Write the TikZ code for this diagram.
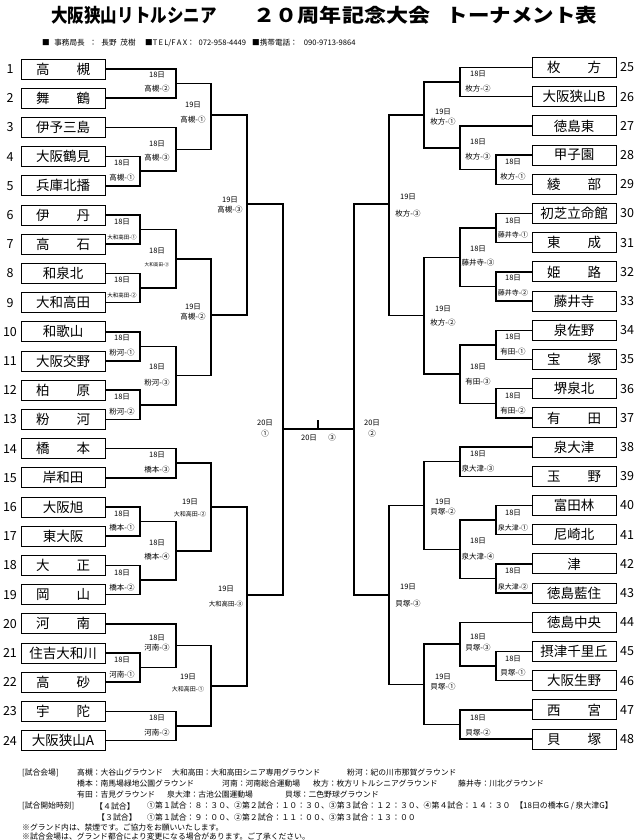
\documentclass[tikz,border=0pt]{standalone}
\usepackage{fontspec}
\usepackage{graphicx}
\setmainfont{Noto Sans CJK JP}
\newcommand\mtch[5]{\coordinate (#5) at (#3,#4); \draw[br] (#1) -- (#1 -| #5) -- (#2 -| #5) -- (#2);}
\newcommand\mlab[6]{\node[lab] (#1a) at (#2,#3) {#5}; \node[lab] (#1b) at (#2,#4) {#6};}
\newcommand\sm[2]{{\fontsize{#1}{#1}\selectfont #2}}
\begin{document}
\begin{tikzpicture}[x=1pt,y=-1pt,
  team/.style={draw, line width=0.9pt, minimum width=84pt, minimum height=20pt, inner sep=0pt, font=\fontsize{13.5}{14}\selectfont},
  num/.style={inner sep=0pt, font=\fontsize{12.5}{13}\selectfont},
  br/.style={line width=1.5pt, line join=miter},
  lab/.style={inner sep=0pt, font=\fontsize{7.5}{8}\selectfont},
  hd/.style={inner sep=0pt, anchor=west, font=\fontsize{7.6}{8}\selectfont},
  ft/.style={inner sep=0pt, anchor=west, font=\fontsize{7.8}{8}\selectfont},
  fb/.style={inner sep=0pt, anchor=west, font=\fontsize{7.9}{9}\selectfont}]
\useasboundingbox (0,0) rectangle (640,840);
\fill[white] (0,0) rectangle (640,840);
% title
\node[inner sep=0pt, font=\fontsize{19}{20}\selectfont\bfseries] (t1) at (134,15) {\scalebox{0.87}[1]{大阪狭山リトルシニア}};
\node[inner sep=0pt, font=\fontsize{19}{20}\selectfont\bfseries] (t2) at (342,15) {\scalebox{1.16}[1]{２０周年記念大会}};
\node[inner sep=0pt, font=\fontsize{19}{20}\selectfont\bfseries] (t3) at (522,15) {\scalebox{1.13}[1]{トーナメント表}};
\node[hd] (h1) at (42,43) {■\hspace{0.6em}事務局長\hspace{0.6em}：\hspace{0.6em}長野\hspace{0.5em}茂樹};
\node[hd] (h2) at (145,43) {■T\,E\,L/F\,A\,X：\hspace{0.5em}072-958-4449};
\node[hd] (h3) at (252,43) {■携帯電話：\hspace{0.8em}090-9713-9864};
% teams
\foreach \t [count=\i] in {{高\hspace{2em}槻},{舞\hspace{2em}鶴},伊予三島,大阪鶴見,兵庫北播,{伊\hspace{2em}丹},{高\hspace{2em}石},和泉北,大和高田,和歌山,大阪交野,{柏\hspace{2em}原},{粉\hspace{2em}河},{橋\hspace{2em}本},岸和田,大阪旭,東大阪,{大\hspace{2em}正},{岡\hspace{2em}山},{河\hspace{2em}南},住吉大和川,{高\hspace{2em}砂},{宇\hspace{2em}陀},大阪狭山A}
{\node[team] (L\i) at (63,{69+(\i-1)*29.2}) {\t};
 \node[num] (NL\i) at (10,{69+(\i-1)*29.2}) {\i};}
\foreach \t [count=\i] in {{枚\hspace{2em}方},大阪狭山B,徳島東,甲子園,{綾\hspace{2em}部},初芝立命館,{東\hspace{2em}成},{姫\hspace{2em}路},藤井寺,泉佐野,{宝\hspace{2em}塚},堺泉北,{有\hspace{2em}田},泉大津,{玉\hspace{2em}野},富田林,尼崎北,津,徳島藍住,徳島中央,摂津千里丘,大阪生野,{西\hspace{2em}宮},{貝\hspace{2em}塚}}
{\pgfmathtruncatemacro\n{\i+24}
 \node[team] (R\n) at (574,{67.5+(\i-1)*29.2}) {\t};
 \node[num] (NR\n) at (627,{67.5+(\i-1)*29.2}) {\n};}
% left brackets
\mtch{L1.east}{L2.east}{176}{83.6}{A1}
\mtch{L4.east}{L5.east}{140}{171.2}{A2}
\mtch{L3.east}{A2}{176}{149.3}{A3}
\mtch{A1}{A3}{211}{115}{B1}
\mtch{L6.east}{L7.east}{140}{229.6}{A4}
\mtch{L8.east}{L9.east}{140}{288}{A5}
\mtch{A4}{A5}{176}{258.8}{A6}
\mtch{L10.east}{L11.east}{140}{346.4}{A7}
\mtch{L12.east}{L13.east}{140}{404.8}{A8}
\mtch{A7}{A8}{176}{375.6}{A9}
\mtch{A6}{A9}{211}{315}{B2}
\mtch{B1}{B2}{247}{204}{C1}
\mtch{L14.east}{L15.east}{176}{463.2}{A10}
\mtch{L16.east}{L17.east}{140}{521.6}{A11}
\mtch{L18.east}{L19.east}{140}{580}{A12}
\mtch{A11}{A12}{176}{550.8}{A13}
\mtch{A10}{A13}{211}{507}{B3}
\mtch{L21.east}{L22.east}{140}{667.6}{A14}
\mtch{L20.east}{A14}{176}{645.7}{A15}
\mtch{L23.east}{L24.east}{176}{726}{A16}
\mtch{A15}{A16}{211}{685.8}{B4}
\mtch{B3}{B4}{247}{595}{C2}
\mtch{C1}{C2}{283}{429}{F1}
% right brackets
\mtch{R25.west}{R26.west}{460}{82.1}{D1}
\mtch{R28.west}{R29.west}{496}{169.7}{D2}
\mtch{R27.west}{D2}{460}{147.8}{D3}
\mtch{D1}{D3}{424}{115}{E1}
\mtch{R30.west}{R31.west}{496}{228.1}{D4}
\mtch{R32.west}{R33.west}{496}{286.5}{D5}
\mtch{D4}{D5}{460}{257.3}{D6}
\mtch{R34.west}{R35.west}{496}{344.9}{D7}
\mtch{R36.west}{R37.west}{496}{403.3}{D8}
\mtch{D7}{D8}{460}{374.1}{D9}
\mtch{D6}{D9}{424}{315.7}{E2}
\mtch{E1}{E2}{389}{204}{G1}
\mtch{R38.west}{R39.west}{460}{461.7}{D10}
\mtch{R40.west}{R41.west}{496}{520.1}{D11}
\mtch{R42.west}{R43.west}{496}{578.5}{D12}
\mtch{D11}{D12}{460}{549.3}{D13}
\mtch{D10}{D13}{424}{505.5}{E3}
\mtch{R45.west}{R46.west}{496}{666.1}{D14}
\mtch{R44.west}{D14}{460}{644.2}{D15}
\mtch{R47.west}{R48.west}{460}{724.5}{D16}
\mtch{D15}{D16}{424}{684.4}{E4}
\mtch{E3}{E4}{389}{595}{G2}
\mtch{G1}{G2}{354}{429}{F2}
% final
\draw[br] (F1) -- (F2);
\coordinate (stub) at (318,420);
\draw[br] (stub) -- (stub |- F1);
% left labels
\mlab{lA1}{157}{75}{89}{18日}{高槻-②}
\mlab{lA2}{122}{163}{178}{18日}{高槻-①}
\mlab{lA3}{157}{144}{158}{18日}{高槻-③}
\mlab{lB1}{193}{105}{120}{19日}{高槻-①}
\mlab{lA4}{122}{222}{237}{18日}{\sm{5.5}{大和高田-①}}
\mlab{lA5}{122}{280}{295}{18日}{\sm{5.5}{大和高田-②}}
\mlab{lA6}{157}{251}{265}{18日}{\sm{4.6}{大和高田-③}}
\mlab{lA7}{122}{338}{353}{18日}{粉河-①}
\mlab{lA8}{122}{397}{412}{18日}{粉河-②}
\mlab{lA9}{157}{367}{383}{18日}{粉河-③}
\mlab{lB2}{193}{307}{317}{19日}{高槻-②}
\mlab{lC1}{230}{200}{210}{19日}{高槻-③}
\mlab{lA10}{157}{455}{470}{18日}{橋本-③}
\mlab{lA11}{122}{514}{528}{18日}{橋本-①}
\mlab{lA12}{122}{573}{588}{18日}{橋本-②}
\mlab{lA13}{157}{543}{557}{18日}{橋本-④}
\mlab{lB3}{190}{502}{514}{19日}{\sm{6}{大和高田-②}}
\mlab{lA14}{122}{660}{675}{18日}{河南-①}
\mlab{lA15}{157}{638}{648}{18日}{河南-③}
\mlab{lA16}{157}{718}{733}{18日}{河南-②}
\mlab{lB4}{188}{677}{689}{19日}{\sm{6}{大和高田-①}}
\mlab{lC2}{226}{589}{604}{19日}{\sm{6.4}{大和高田-③}}
% centre labels
\mlab{lF1}{265}{423}{434}{20日}{①}
\mlab{lF2}{372}{423}{434}{20日}{②}
\node[lab] (lF3a) at (309,438) {20日};
\node[lab] (lF3b) at (332,438) {③};
% right labels
\mlab{rD1}{478}{74}{89}{18日}{枚方-②}
\mlab{rD2}{513}{162}{177}{18日}{枚方-①}
\mlab{rD3}{478}{142}{157}{18日}{枚方-③}
\mlab{rE1}{443}{112}{122}{19日}{枚方-①}
\mlab{rD4}{513}{221}{235}{18日}{\sm{7}{藤井寺-①}}
\mlab{rD5}{513}{278}{293}{18日}{\sm{7}{藤井寺-②}}
\mlab{rD6}{478}{249}{263}{18日}{藤井寺-③}
\mlab{rD7}{513}{337}{352}{18日}{有田-①}
\mlab{rD8}{513}{396}{411}{18日}{有田-②}
\mlab{rD9}{478}{367}{382}{18日}{有田-③}
\mlab{rE2}{443}{309}{323}{19日}{枚方-②}
\mlab{rG1}{408}{197}{214}{19日}{枚方-③}
\mlab{rD10}{478}{454}{469}{18日}{泉大津-③}
\mlab{rD11}{513}{513}{528}{18日}{\sm{7}{泉大津-①}}
\mlab{rD12}{513}{571}{587}{18日}{\sm{7}{泉大津-②}}
\mlab{rD13}{478}{541}{557}{18日}{泉大津-④}
\mlab{rE3}{443}{502}{512}{19日}{貝塚-②}
\mlab{rD14}{513}{659}{673}{18日}{貝塚-①}
\mlab{rD15}{478}{637}{648}{18日}{貝塚-③}
\mlab{rD16}{478}{718}{733}{18日}{貝塚-②}
\mlab{rE4}{443}{677}{687}{19日}{貝塚-①}
\mlab{rG2}{408}{587}{604}{19日}{貝塚-③}
% footer
\node[ft] (f1a) at (22,773) {[試合会場]};
\node[ft] (f1b) at (77,773) {高槻：大谷山グラウンド};
\node[ft] (f1c) at (172,773) {大和高田：大和高田シニア専用グラウンド};
\node[ft] (f1d) at (347,773) {粉河：紀の川市那賀グラウンド};
\node[ft] (f2a) at (77,784) {橋本：南馬場緑地公園グラウンド};
\node[ft] (f2b) at (222,784) {河南：河南総合運動場};
\node[ft] (f2c) at (313,784) {枚方：枚方リトルシニアグラウンド};
\node[ft] (f2d) at (458,784) {藤井寺：川北グラウンド};
\node[ft] (f3a) at (77,795) {有田：吉見グラウンド};
\node[ft] (f3b) at (167,795) {泉大津：古池公園運動場};
\node[ft] (f3c) at (285,795) {貝塚：二色野球グラウンド};
\node[ft] (f4a) at (22,806) {[試合開始時刻]};
\node[fb] (f4b) at (95,806) {【４試合】};
\node[fb] (f4c) at (147,806) {①第１試合：８：３０、②第２試合：１０：３０、③第３試合：１２：３０、④第４試合：１４：３０\hspace{0.6em}【18日の橋本G / 泉大津G】};
\node[fb] (f5a) at (97,817) {【３試合】};
\node[fb] (f5b) at (147,817) {①第１試合：９：００、②第２試合：１１：００、③第３試合：１３：００};
\node[ft] (f6) at (22,827.5) {※グランド内は、禁煙です。ご協力をお願いいたします。};
\node[ft] (f7) at (22,837) {※試合会場は、グランド都合により変更になる場合があります。ご了承ください。};
\end{tikzpicture}
\end{document}
